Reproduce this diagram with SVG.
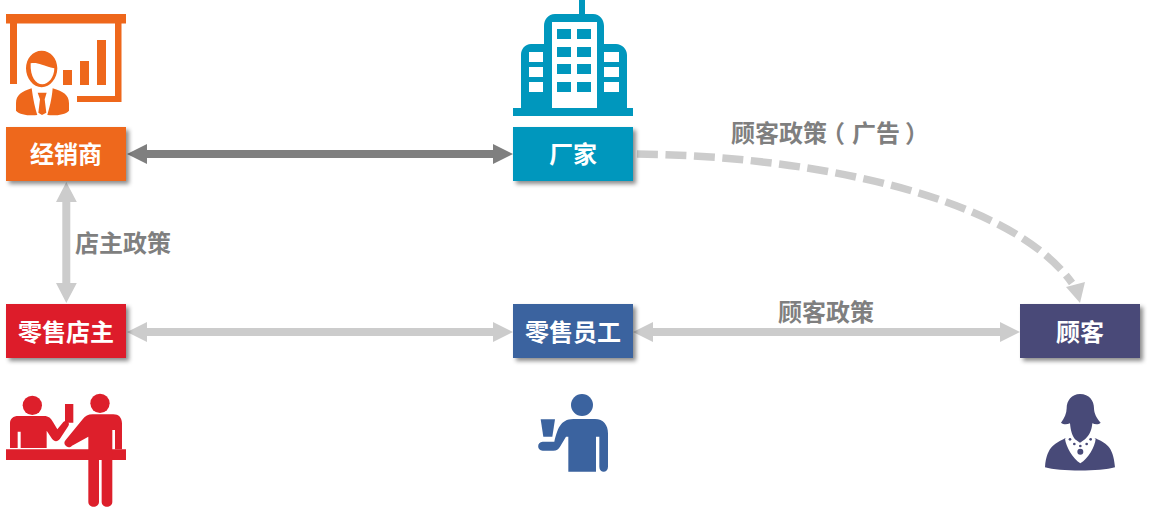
<svg xmlns="http://www.w3.org/2000/svg" width="1149" height="507" viewBox="0 0 1149 507">
<style>
text{font-family:"Noto Sans CJK SC","Microsoft YaHei",sans-serif;font-weight:700;text-anchor:middle}
.n{font-size:24px;fill:#fff}
.l{font-size:24px;fill:#7f7f7f}
.g{fill:none;stroke:#ccc;stroke-width:8}
.s{filter:url(#sh)}
.z{fill:#ccc}
.h{font-feature-settings:"halt"}
</style>
<defs>
<filter id="sh" x="-10%" y="-10%" width="125%" height="130%"><feDropShadow dx="3" dy="3" stdDeviation="2" flood-color="#000" flood-opacity=".45"/></filter>
</defs>
<rect width="1149" height="507" fill="#fff"/>
<g id="connectors">
<path d="M146 154H494" fill="none" stroke="#7f7f7f" stroke-width="8"/>
<path d="M127 154l20-10v20zM513 154l-20-10v20z" fill="#7f7f7f"/>
<path class="g" d="M66.300 200V288"/>
<path class="z" d="M66.300 182l10.500 20H56zM66.300 303l10.500-20H56z"/>
<path class="g" d="M146 332H494"/>
<path class="z" d="M127 332l20-10v20zM513 332l-20-10v20z"/>
<path class="g" d="M652 332H1002"/>
<path class="z" d="M633 332l20-10v20zM1020 332l-20-10v20z"/>
<path d="M634 154C790 155 1005 190 1072 283" fill="none" stroke="#ccc" stroke-width="7.500" stroke-dasharray="21 7.500" stroke-dashoffset="-3"/>
<path class="z" d="M1080 303L1066 287 1085 282z"/>
</g>
<text class="l h" style="text-anchor:start" x="731" y="142">顾客政策<tspan x="833">（</tspan><tspan x="852">广告</tspan><tspan x="905">）</tspan></text>
<text class="l" x="123" y="252">店主政策</text>
<text class="l" x="826" y="321">顾客政策</text>
<g id="dealer">
<rect class="s" x="6" y="127" width="120" height="54" fill="#ee671b"/>
<text class="n" x="66" y="163">经销商</text>
<path fill="#ee671b" d="M6 14H126V23.500H121.500V102H77V96H115V23.500H17V84H10V23.500H6zM63 70H72V85H63zM80 61H89V85H80zM97 40H106V85H97z"/>
<g fill="#ee671b" transform="scale(.3333)">
<path fill-rule="evenodd" d="M125 152C152 152 172 176 172 205C172 236 150 262 125 262C100 262 78 236 78 205C78 176 98 152 125 152ZM92 190C90 232 108 253 127 253C145 253 163 232 163 205C125 195 110 185 92 190Z"/>
<path d="M48 310C48 285 65 275 95 265C100 300 105 325 112 345C90 348 60 345 48 332ZM207 310C207 285 190 275 158 265C155 300 148 325 142 345C165 348 195 345 207 332ZM113 278H140L134 298 139 338 126 345 115 338 120 298Z"/>
</g>
</g>
<g id="maker">
<rect class="s" x="513" y="127" width="120" height="54" fill="#0097bd"/>
<text class="n" x="573" y="163">厂家</text>
<path fill="#0097bd" fill-rule="evenodd" d="M579 0H585V14H593C600 14 604 20 604 26V44H616C622 44 627 49 627 55V108H633V116H513V108H521V55C521 49 525 44 531 44H544V26C544 20 548 14 555 14H579ZM552 22V108H597V22ZM529 52V62H543V52ZM529 67V77H543V67ZM529 82V92H543V82ZM604 52V62H619V52ZM604 67V77H619V67ZM604 82V92H619V82Z"/>
<path fill="#0097bd" d="M557 29H571V39H557zM577 29H591V39H577zM557 47H571V57H557zM577 47H591V57H577zM557 64H571V74H557zM577 64H591V74H577zM557 82H571V92H557zM577 82H591V92H577z"/>
</g>
<g id="owner">
<rect class="s" x="6" y="304" width="120" height="54" fill="#dd1f2b"/>
<text class="n" x="66" y="341">零售店主</text>
<g fill="#dd1f2b" transform="translate(0 380) scale(.3333)">
<path d="M18 208H378V240H18zM195 72H220V128H195z"/>
<circle cx="97" cy="76" r="29"/><circle cx="300" cy="70" r="29"/>
<path d="M30 204V130C30 116 40 108 55 108H132C146 108 153 115 159 126L172 148 190 126C198 118 212 128 205 138L180 176C173 186 163 186 156 176L140 152V204H62V155H53V204Z"/>
<path d="M265 240V170L216 197C204 210 185 192 197 180L248 118C256 108 264 103 278 103H340C356 103 366 113 366 130V208H345V150H337V365C337 385 305 385 305 365V240H297V365C297 385 265 385 265 365Z"/>
</g>
</g>
<g id="staff">
<rect class="s" x="513" y="304" width="120" height="54" fill="#3b639f"/>
<text class="n" x="573" y="341">零售员工</text>
<g fill="#3b639f" transform="translate(520 380) scale(.3333)">
<circle cx="186" cy="75" r="33"/>
<path d="M62 118H105L97 170H70Z"/>
<path d="M145 275V170H138L120 200C115 208 110 212 100 212H68C50 212 50 185 68 185H103C112 150 120 117 160 117H225C250 117 264 135 264 160V260C264 280 238 280 238 260V170H228V275Z"/>
</g>
</g>
<g id="customer">
<rect class="s" x="1020" y="304" width="120" height="54" fill="#484a78"/>
<text class="n" x="1080" y="341">顾客</text>
<g fill="#484a78" transform="translate(1030 380) scale(.3333)">
<path d="M105 175C80 190 50 195 45 262C90 275 210 275 255 262C250 195 225 190 197 175L150 190Z"/>
<path fill="#fff" d="M105 176L125 168 150 190 178 168 197 176C195 200 175 235 151 250C128 235 108 200 105 176Z"/>
<path d="M150 42C178 42 192 62 192 85C192 100 200 115 212 128C205 135 195 133 187 130C185 150 180 165 165 178L150 188 135 178C125 165 122 150 120 130C110 134 100 134 93 128C103 115 110 100 110 85C110 62 125 42 150 42Z"/>
<circle cx="120" cy="178" r="4"/><circle cx="182" cy="178" r="4"/><circle cx="133" cy="192" r="4"/><circle cx="170" cy="192" r="4"/><circle cx="151" cy="198" r="4"/><circle cx="151" cy="215" r="9"/>
</g>
</g>
</svg>
